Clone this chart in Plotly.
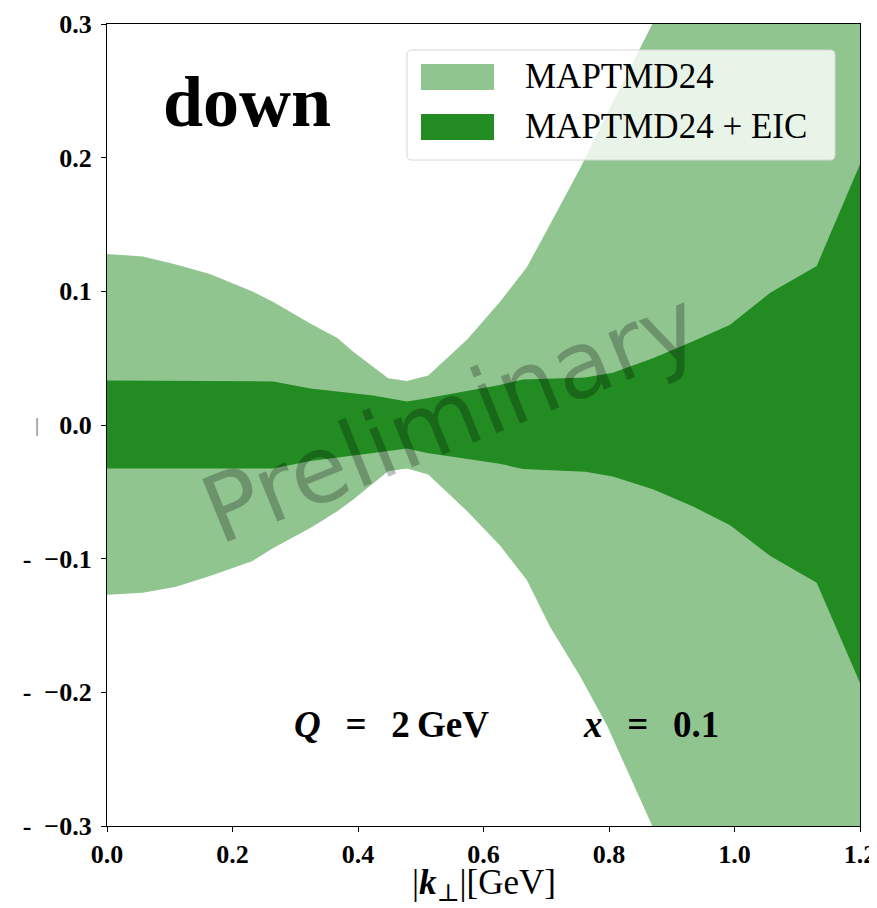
import plotly.graph_objects as go

# ---- data ----
x_light = [0.0, 0.057, 0.11, 0.164, 0.231, 0.265, 0.324, 0.367, 0.392, 0.448, 0.478,
           0.512, 0.574, 0.626, 0.669, 0.706, 0.754, 0.797, 0.869, 0.94, 1.0, 1.06, 1.13, 1.2]
light_upper = [0.128, 0.126, 0.120, 0.113, 0.100, 0.092, 0.076, 0.065, 0.055, 0.035, 0.033,
               0.037, 0.064, 0.092, 0.118, 0.150, 0.192, 0.233, 0.300, 0.37, 0.43, 0.49, 0.55, 0.62]
light_lower = [-0.127, -0.1255, -0.121, -0.113, -0.102, -0.092, -0.077, -0.0645, -0.056, -0.0346, -0.0326,
               -0.037, -0.0645, -0.090, -0.116, -0.151, -0.188, -0.225, -0.300, -0.37, -0.43, -0.49, -0.55, -0.62]

x_dark = [0.0, 0.265, 0.324, 0.424, 0.478, 0.51, 0.626, 0.663, 0.762, 0.806, 0.87, 0.934,
          0.993, 1.057, 1.131, 1.2]
dark_upper = [0.0333, 0.0326, 0.0273, 0.022, 0.0176, 0.020, 0.030, 0.034, 0.0356, 0.039, 0.050,
              0.0626, 0.075, 0.099, 0.119, 0.195]
dark_lower = [-0.0326, -0.0326, -0.027, -0.021, -0.0176, -0.021, -0.029, -0.033, -0.035, -0.0386,
              -0.048, -0.061, -0.075, -0.098, -0.118, -0.193]

series_names = ["MAPTMD24", "MAPTMD24 + EIC"]
x_ticks = [0.0, 0.2, 0.4, 0.6, 0.8, 1.0, 1.2]
x_ticklabels = ["0.0", "0.2", "0.4", "0.6", "0.8", "1.0", "1.2"]
y_ticks = [-0.3, -0.2, -0.1, 0.0, 0.1, 0.2, 0.3]
y_ticklabels = ["-\u2002\u22120.3", "-\u2002\u22120.2", "-\u2002\u22120.1",
                "0.0", "0.1", "0.2", "0.3"]

LIGHT = "rgba(34,139,34,0.5)"
DARK = "rgb(34,139,34)"
SERIF = "Liberation Serif"
colors = [LIGHT, DARK]

fig = go.Figure()
fig.add_trace(go.Scatter(
    x=x_light + x_light[::-1], y=light_upper + light_lower[::-1],
    fill="toself", fillcolor=LIGHT, mode="none", name=series_names[0],
    hoverinfo="skip", showlegend=False))
fig.add_trace(go.Scatter(
    x=x_dark + x_dark[::-1], y=dark_upper + dark_lower[::-1],
    fill="toself", fillcolor=DARK, mode="none", name=series_names[1],
    hoverinfo="skip", showlegend=False))

axis_common = dict(showgrid=False, zeroline=False, showline=True, linecolor="black",
                   linewidth=1.2, mirror=True, ticks="outside", ticklen=5,
                   tickcolor="black", tickwidth=1.2, automargin=False,
                   tickfont=dict(family=SERIF, size=26, color="black"))

fig.update_xaxes(range=[0, 1.2], tickvals=x_ticks,
                 ticktext=["<b>%s</b>" % t for t in x_ticklabels],
                 **axis_common)
fig.update_yaxes(range=[-0.3, 0.3], tickvals=y_ticks,
                 ticktext=["<b>%s</b>" % t for t in y_ticklabels],
                 ticklabelstandoff=4,
                 **axis_common)

# x-axis title
fig.add_annotation(x=0.5, y=-0.0735, xref="paper", yref="paper", yanchor="middle",
                   text="|<b><i>k</i></b><sub><span style=\"font-family:'DejaVu Serif'\">\u22a5</span></sub>|[GeV]",
                   showarrow=False, font=dict(family=SERIF, size=35, color="black"))

fig.add_annotation(x=0.2225, y=0.2415, xref="x", yref="y", text="<b>down</b>",
                   showarrow=False, font=dict(family=SERIF, size=72, color="black"))
fig.add_annotation(x=0.454, y=-0.224, xref="x", yref="y",
                   text="<b><i>Q</i>\u2004\u2004=\u2004\u20042\u2009GeV</b>", showarrow=False,
                   font=dict(family=SERIF, size=37, color="black"))
fig.add_annotation(x=0.867, y=-0.224, xref="x", yref="y",
                   text="<b><i>x</i>\u2004\u2004=\u2004\u20040.1</b>", showarrow=False,
                   font=dict(family=SERIF, size=37, color="black"))
fig.add_annotation(x=0.548, y=0.006, xref="x", yref="y", text="Preliminary",
                   showarrow=False, textangle=-22,
                   font=dict(family="DejaVu Sans", size=93, color="rgba(0,0,0,0.25)"))
fig.add_annotation(x=-0.1, y=0.0, xref="paper", yref="y", text="|",
                   showarrow=False, font=dict(family="DejaVu Sans", size=18, color="#999999"))

# ---- legend (box, patches, labels) in paper coordinates ----
lx0, lx1, ly0, ly1 = 0.3984, 0.9668, 0.8304, 0.9676
rx, ry = 0.0066, 0.0062
box_path = (f"M {lx0+rx},{ly0} L {lx1-rx},{ly0} Q {lx1},{ly0} {lx1},{ly0+ry} "
            f"L {lx1},{ly1-ry} Q {lx1},{ly1} {lx1-rx},{ly1} L {lx0+rx},{ly1} "
            f"Q {lx0},{ly1} {lx0},{ly1-ry} L {lx0},{ly0+ry} Q {lx0},{ly0} {lx0+rx},{ly0} Z")
fig.add_shape(type="path", path=box_path, xref="paper", yref="paper",
              fillcolor="rgba(255,255,255,0.8)", line=dict(color="rgb(215,215,215)", width=1))
patch_y = [(0.9177, 0.9501), (0.8554, 0.8878)]
text_y = [0.934, 0.8716]
for i in range(2):
    fig.add_shape(type="rect", xref="paper", yref="paper", x0=0.417, x1=0.514,
                  y0=patch_y[i][0], y1=patch_y[i][1], fillcolor=colors[i], line=dict(width=0))
    fig.add_annotation(x=0.5525, y=text_y[i], xref="paper", yref="paper",
                       xanchor="left", yanchor="middle", text=series_names[i],
                       showarrow=False, font=dict(family=SERIF, size=35, color="black"))

# page body adds an 8px offset, so the figure is 8px smaller than the window
fig.update_layout(
    width=869, height=900,
    margin=dict(l=99, r=17, t=16, b=82),
    plot_bgcolor="white", paper_bgcolor="white",
    showlegend=False,
)

fig.write_html("out.html")
